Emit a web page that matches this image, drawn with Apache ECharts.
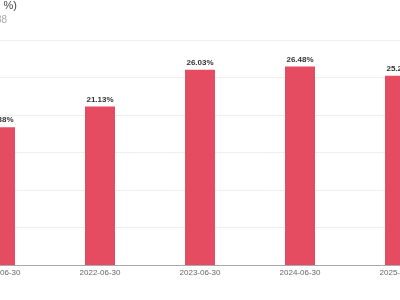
<!DOCTYPE html>
<html><head><meta charset="utf-8">
<script src="https://cdn.jsdelivr.net/npm/echarts@6/dist/echarts.min.js"></script>
<style>html,body{margin:0;padding:0;overflow:hidden;width:400px;height:300px;background:#fff}
#c{position:absolute;left:-50px;top:0;width:500px;height:300px}</style>
</head><body><div id="c"></div>
<script>
const categories = ['2021-06-30','2022-06-30','2023-06-30','2024-06-30','2025-06-30'];
const values = [18.38, 21.13, 26.03, 26.48, 25.24];
const yTicks = [0, 5, 10, 15, 20, 25, 30];
const titleText = '（ %)';
const subText = '38';

const chart = echarts.init(document.getElementById('c'), null, {renderer:'canvas'});
chart.setOption({
  animation:false,
  graphic:[
    {type:'text', x:67, y:6, style:{text:titleText, align:'right', verticalAlign:'middle', font:'11px "Liberation Sans", Arial, sans-serif', fill:'#444'}},
    {type:'text', x:57, y:20, style:{text:subText, align:'right', verticalAlign:'middle', font:'10px "Liberation Sans", Arial, sans-serif', fill:'#aaa'}}
  ],
  grid:{left:0, right:0, top:40, bottom:35, containLabel:false},
  xAxis:{type:'category', data:categories,
    axisLine:{lineStyle:{color:'#aaa'}}, axisTick:{show:false},
    axisLabel:{fontSize:8, color:'#666', margin:4, fontFamily:'Liberation Sans, Arial, sans-serif'}},
  yAxis:{type:'value', min:yTicks[0], max:yTicks[yTicks.length-1], interval:5,
    axisLabel:{show:false}, axisLine:{show:false}, axisTick:{show:false},
    splitLine:{lineStyle:{color:'#eee'}}},
  series:[{type:'bar', data:values, barWidth:30,
    itemStyle:{color:'#e54c62'},
    label:{show:true, position:'top', distance:3, formatter:p=>p.value.toFixed(2)+'%', fontSize:8, fontWeight:'bold', color:'#333', fontFamily:'Liberation Sans, Arial, sans-serif'}}]
});
</script></body></html>
